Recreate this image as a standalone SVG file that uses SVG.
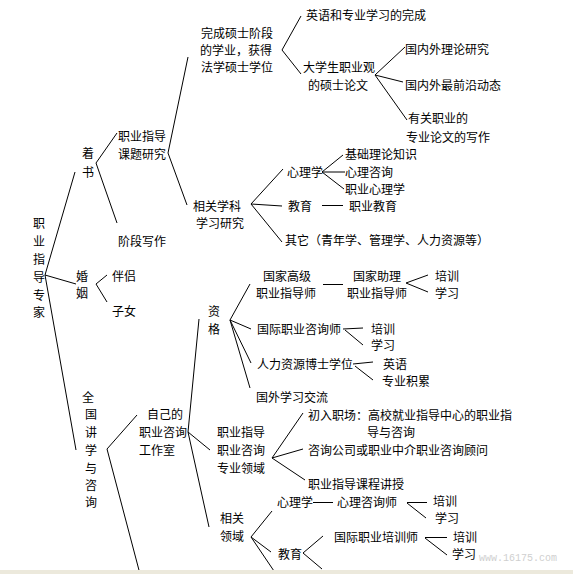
<svg xmlns="http://www.w3.org/2000/svg" width="573" height="574" viewBox="0 0 573 574">
<style>
text{font-family:"Noto Sans CJK SC","Liberation Sans",sans-serif;font-size:12px;fill:#000}
.c line{stroke:#000;stroke-width:1;fill:none}
.wm{font-family:"Liberation Mono",monospace;font-size:11px;fill:#cfcfcf}
</style>
<rect width="573" height="574" fill="#fff"/>
<g id="connectors" class="c">
<line x1="45" y1="275" x2="75" y2="172"/>
<line x1="45" y1="275" x2="76" y2="284"/>
<line x1="45" y1="275" x2="76" y2="450"/>
<line x1="96" y1="163" x2="117" y2="133"/>
<line x1="96" y1="163" x2="117" y2="223"/>
<line x1="168" y1="153" x2="188" y2="57"/>
<line x1="168" y1="153" x2="187" y2="205"/>
<line x1="282" y1="50" x2="301" y2="16"/>
<line x1="282" y1="50" x2="301" y2="74"/>
<line x1="375" y1="75" x2="405" y2="47"/>
<line x1="375" y1="75" x2="403" y2="82"/>
<line x1="375" y1="75" x2="407" y2="120"/>
<line x1="251" y1="204" x2="283" y2="169"/>
<line x1="251" y1="204" x2="282" y2="206"/>
<line x1="251" y1="204" x2="282" y2="242"/>
<line x1="322" y1="172" x2="343" y2="155"/>
<line x1="322" y1="172" x2="345" y2="172"/>
<line x1="322" y1="172" x2="344" y2="189"/>
<line x1="322" y1="205.5" x2="343" y2="205.5"/>
<line x1="96" y1="284" x2="107" y2="275"/>
<line x1="96" y1="284" x2="107" y2="302"/>
<line x1="107" y1="449" x2="137" y2="415"/>
<line x1="107" y1="449" x2="140" y2="574"/>
<line x1="188" y1="432" x2="199" y2="319"/>
<line x1="188" y1="432" x2="210" y2="450"/>
<line x1="188" y1="432" x2="209" y2="527"/>
<line x1="230" y1="320" x2="250" y2="284"/>
<line x1="230" y1="320" x2="251" y2="329"/>
<line x1="230" y1="320" x2="251" y2="363"/>
<line x1="230" y1="320" x2="250" y2="388"/>
<line x1="323" y1="284.5" x2="343" y2="284.5"/>
<line x1="406" y1="283" x2="428" y2="275"/>
<line x1="406" y1="283" x2="428" y2="292"/>
<line x1="343" y1="329" x2="363" y2="328"/>
<line x1="345" y1="330" x2="363" y2="345"/>
<line x1="353" y1="364" x2="373" y2="362"/>
<line x1="355" y1="366" x2="373" y2="380"/>
<line x1="272" y1="458" x2="303" y2="413"/>
<line x1="272" y1="458" x2="303" y2="449"/>
<line x1="272" y1="458" x2="305" y2="480"/>
<line x1="251" y1="537" x2="272" y2="511"/>
<line x1="251" y1="537" x2="271" y2="552"/>
<line x1="251" y1="537" x2="276" y2="574"/>
<line x1="313" y1="502.5" x2="333" y2="502.5"/>
<line x1="407" y1="502.5" x2="427" y2="502.5"/>
<line x1="407" y1="503" x2="426" y2="518"/>
<line x1="303" y1="553" x2="323" y2="536"/>
<line x1="303" y1="553" x2="322" y2="569"/>
<line x1="425" y1="537.5" x2="447" y2="537.5"/>
<line x1="425" y1="538" x2="447" y2="555"/>
</g>
<g id="root"><text x="33"><tspan x="33" y="228">职</tspan><tspan x="33" y="246">业</tspan><tspan x="33" y="264">指</tspan><tspan x="33" y="282">导</tspan><tspan x="33" y="300">专</tspan><tspan x="33" y="317">家</tspan></text></g>
<g id="zhushu"><text><tspan x="82" y="158">着</tspan><tspan x="82" y="177">书</tspan></text></g>
<g id="hunyin"><text><tspan x="76" y="281">婚</tspan><tspan x="76" y="298">姻</tspan></text></g>
<g id="banlv"><text x="112" y="281">伴侣</text></g>
<g id="zinv"><text x="112" y="316">子女</text></g>
<g id="quanguo"><text><tspan x="82" y="402">全</tspan><tspan x="85" y="419">国</tspan><tspan x="85" y="437">讲</tspan><tspan x="85" y="455">学</tspan><tspan x="85" y="473">与</tspan><tspan x="85" y="490">咨</tspan><tspan x="85" y="507">询</tspan></text></g>
<g id="ketiyanjiu"><text><tspan x="118" y="141">职业指导</tspan><tspan x="118" y="159">课题研究</tspan></text></g>
<g id="jieduan"><text x="118" y="246">阶段写作</text></g>
<g id="wancheng"><text><tspan x="201" y="38">完成硕士阶段</tspan><tspan x="200" y="55">的学业，获得</tspan><tspan x="201" y="72">法学硕士学位</tspan></text></g>
<g id="yingyu"><text x="306" y="20">英语和专业学习的完成</text></g>
<g id="daxuesheng"><text><tspan x="303" y="72">大学生职业观</tspan><tspan x="308" y="90">的硕士论文</tspan></text></g>
<g id="guoneililun"><text x="405" y="54">国内外理论研究</text></g>
<g id="guoneiqianyan"><text x="405" y="90">国内外最前沿动态</text></g>
<g id="youguan"><text><tspan x="408" y="123">有关职业的</tspan><tspan x="406" y="142">专业论文的写作</tspan></text></g>
<g id="xiangguanxueke"><text><tspan x="193" y="211">相关学科</tspan><tspan x="196" y="228">学习研究</tspan></text></g>
<g id="xinlixue"><text x="287" y="177">心理学</text></g>
<g id="jichu"><text x="345" y="159">基础理论知识</text></g>
<g id="xinlizixun"><text x="345" y="177">心理咨询</text></g>
<g id="zhiyexinli"><text x="345" y="194">职业心理学</text></g>
<g id="jiaoyu"><text x="288" y="211">教育</text></g>
<g id="zhiyejiaoyu"><text x="349" y="211">职业教育</text></g>
<g id="qita"><text x="285" y="245">其它（青年学、管理学、人力资源等）</text></g>
<g id="zige"><text><tspan x="208" y="316">资</tspan><tspan x="208" y="334">格</tspan></text></g>
<g id="guojiagaoji"><text><tspan x="263" y="281">国家高级</tspan><tspan x="256" y="298">职业指导师</tspan></text></g>
<g id="guojiazhuli"><text><tspan x="353" y="281">国家助理</tspan><tspan x="347" y="298">职业指导师</tspan></text></g>
<g id="peixun1"><text x="435" y="281">培训</text></g>
<g id="xuexi1"><text x="435" y="298">学习</text></g>
<g id="guojizixunshi"><text x="257" y="334">国际职业咨询师</text></g>
<g id="peixun2"><text x="371" y="334">培训</text></g>
<g id="xuexi2"><text x="371" y="350">学习</text></g>
<g id="renli"><text x="257" y="369">人力资源博士学位</text></g>
<g id="yingyu2"><text x="383" y="369">英语</text></g>
<g id="zhuanyejilei"><text x="382" y="386">专业积累</text></g>
<g id="guowai"><text x="256" y="402">国外学习交流</text></g>
<g id="gongzuoshi"><text><tspan x="147" y="419">自己的</tspan><tspan x="139" y="437">职业咨询</tspan><tspan x="139" y="455">工作室</tspan></text></g>
<g id="lingyu"><text><tspan x="217" y="437">职业指导</tspan><tspan x="217" y="455">职业咨询</tspan><tspan x="217" y="473">专业领域</tspan></text></g>
<g id="churu"><text><tspan x="308" y="420">初入职场：高校就业指导中心的职业指</tspan><tspan x="367" y="437">导与咨询</tspan></text></g>
<g id="zixungongsi"><text x="308" y="455">咨询公司或职业中介职业咨询顾问</text></g>
<g id="kecheng"><text x="308" y="489">职业指导课程讲授</text></g>
<g id="xiangguanlingyu"><text><tspan x="220" y="523">相关</tspan><tspan x="220" y="541">领域</tspan></text></g>
<g id="xinlixue2"><text x="277" y="507">心理学</text></g>
<g id="xinlizixunshi"><text x="337" y="507">心理咨询师</text></g>
<g id="peixun3"><text x="433" y="506">培训</text></g>
<g id="xuexi3"><text x="435" y="523">学习</text></g>
<g id="jiaoyu2"><text x="278" y="559">教育</text></g>
<g id="guojipeixunshi"><text x="334" y="542">国际职业培训师</text></g>
<g id="peixun4"><text x="453" y="542">培训</text></g>
<g id="xuexi4"><text x="452" y="559">学习</text></g>
<text class="wm" x="479" y="561" textLength="78" lengthAdjust="spacingAndGlyphs">www.16175.com</text>
<rect x="0" y="570" width="573" height="4" fill="#ece9dc"/>
</svg>
